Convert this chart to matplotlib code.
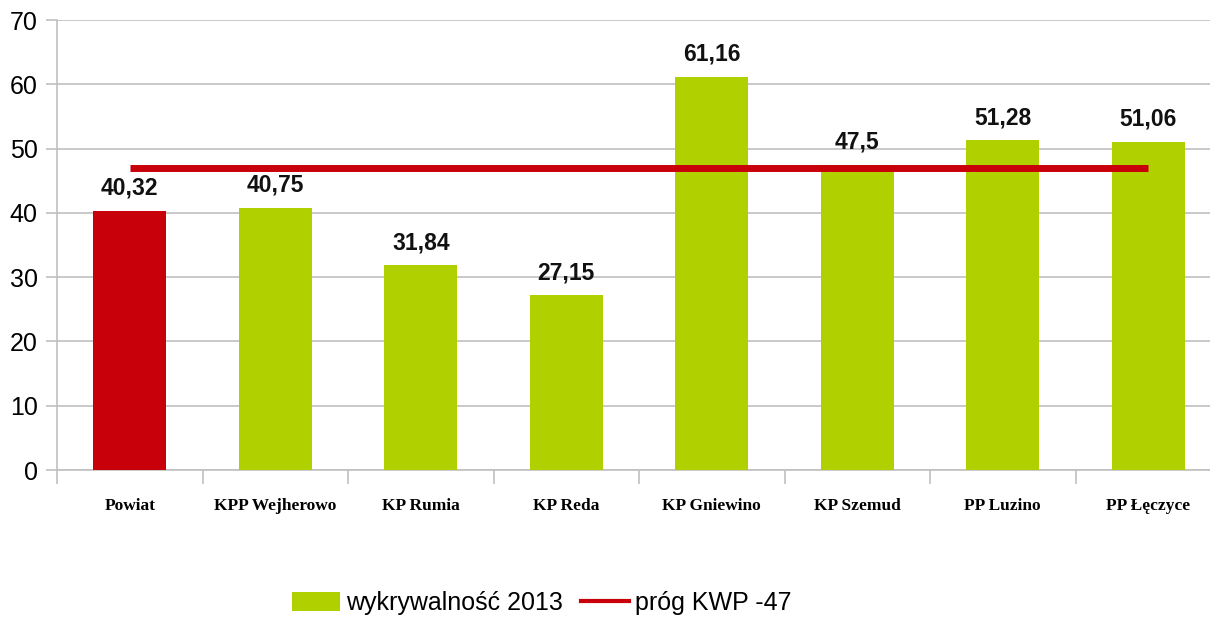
import matplotlib
matplotlib.use("Agg")
import matplotlib.pyplot as plt
from matplotlib.patches import Patch
from matplotlib.lines import Line2D

categories = ["Powiat", "KPP Wejherowo", "KP Rumia", "KP Reda", "KP Gniewino",
              "KP Szemud", "PP Luzino", "PP Łęczyce"]
values = [40.32, 40.75, 31.84, 27.15, 61.16, 47.5, 51.28, 51.06]
value_labels = ["40,32", "40,75", "31,84", "27,15", "61,16", "47,5", "51,28", "51,06"]
threshold = [47] * len(categories)
yticks = [0, 10, 20, 30, 40, 50, 60, 70]

GREEN = "#b0d000"
RED = "#c8000a"
GRID = "#c0c0c0"

fig = plt.figure(figsize=(12.10, 6.21), dpi=100)
ax = fig.add_axes([57 / 1210, 1 - 470 / 621, (8 * 145.5) / 1210, 450 / 621])

x = list(range(len(categories)))
colors = [RED] + [GREEN] * (len(categories) - 1)
ax.bar(x, values, width=0.5, color=colors, zorder=3)
ax.plot(x, threshold, color=RED, linewidth=5, solid_capstyle="butt", zorder=4)

for xi, v, lab in zip(x, values, value_labels):
    ax.annotate(lab, (xi, v), xytext=(0, 8), textcoords="offset points",
                ha="center", va="bottom", fontsize=16.5, fontweight="bold",
                family="Liberation Sans", color="#111111", zorder=5)

ax.set_xlim(-0.5, len(categories) - 0.5)
ax.set_ylim(0, 70)
ax.set_yticks(yticks)
ax.set_yticklabels([str(t) for t in yticks], fontsize=18, family="Liberation Sans")
ax.yaxis.grid(True, color=GRID, linewidth=1.2, zorder=0)
ax.tick_params(axis="y", length=8, color=GRID, width=1.2, pad=6)

ax.set_xticks([i - 0.5 for i in range(len(categories) + 1)])
ax.set_xticklabels([])
ax.set_xticks(x, minor=True)
ax.set_xticklabels(categories, minor=True, fontsize=12.5, fontweight="bold",
                   family="Liberation Serif")
ax.tick_params(axis="x", which="major", length=10, color=GRID, width=1.2)
ax.tick_params(axis="x", which="minor", length=0, pad=20)

for s in ["top", "right"]:
    ax.spines[s].set_visible(False)
for s in ["left", "bottom"]:
    ax.spines[s].set_color(GRID)
    ax.spines[s].set_linewidth(1.2)
ax.set_axisbelow(True)

handles = [Patch(facecolor=GREEN, edgecolor="none"),
           Line2D([0], [0], color=RED, linewidth=3)]
fig.legend(handles, ["wykrywalność 2013", "próg KWP -47"], loc="center",
           bbox_to_anchor=(542 / 1210, 1 - 603 / 621), ncol=2, frameon=False,
           prop={"family": "Liberation Sans", "size": 18},
           handlelength=1.92, handleheight=0.8, handletextpad=0.24,
           columnspacing=0.72, borderpad=0.2)

fig.savefig("out.png", dpi=100)
